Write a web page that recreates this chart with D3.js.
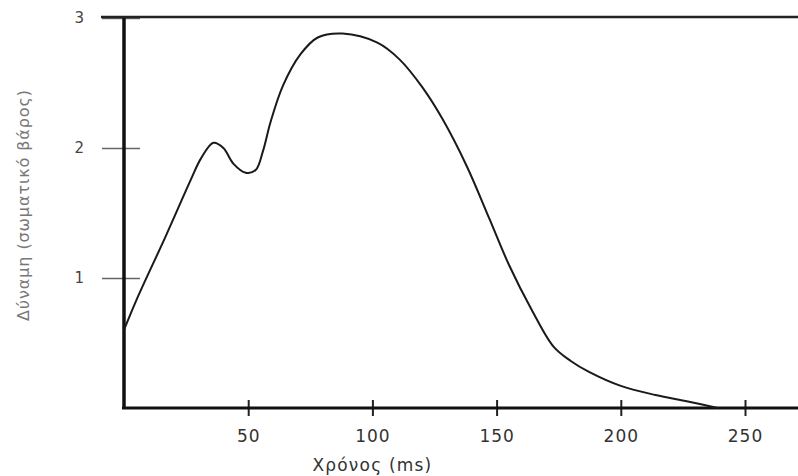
<!DOCTYPE html>
<html>
<head>
<meta charset="utf-8">
<script src="https://cdn.jsdelivr.net/npm/d3@7"></script>
<style>
  body { margin: 0; background: #fff; }
  text { font-family: "DejaVu Sans", sans-serif; }
</style>
</head>
<body>
<svg id="chart" width="798" height="476"></svg>
<script>
// values
var timeMs = [0, 5, 17, 27, 31, 36, 40, 44, 49, 53, 56, 59, 64, 71, 78, 88, 102, 111, 120, 128, 138, 147, 155, 164, 173, 180, 187, 200, 214, 227, 239];
var force  = [0.6, 0.83, 1.33, 1.76, 1.92, 2.04, 2.0, 1.88, 1.81, 1.83, 1.98, 2.2, 2.48, 2.72, 2.85, 2.88, 2.81, 2.68, 2.47, 2.23, 1.86, 1.46, 1.1, 0.76, 0.47, 0.36, 0.28, 0.17, 0.1, 0.05, 0.0];
var xTicks = [50, 100, 150, 200, 250];
var yTicks = [1, 2, 3];
var xLabel = "Χρόνος (ms)";
var yLabel = "Δύναμη (σωματικό βάρος)";

var width = 798, height = 476;

var x = d3.scaleLinear().domain([0, 250]).range([124, 745]);
var y = d3.scaleLinear().domain([0, 3]).range([408, 18]);

var svg = d3.select("#chart");

// y axis ticks (cross the axis line)
var yAxis = svg.append("g")
    .attr("transform", "translate(" + x(0) + ",0)")
    .call(d3.axisLeft(y).tickValues(yTicks).tickSize(22).tickFormat(d3.format("d")));
yAxis.select(".domain").remove();
yAxis.selectAll(".tick line")
    .attr("x2", 16).attr("x1", -22)
    .attr("stroke", "#666").attr("stroke-width", 1.5);
yAxis.selectAll(".tick text")
    .attr("x", -40)
    .attr("font-size", 15)
    .attr("fill", "#444");

// x axis
var xAxis = svg.append("g")
    .attr("transform", "translate(0," + y(0) + ")")
    .call(d3.axisBottom(x).tickValues(xTicks).tickSize(8));
xAxis.select(".domain").remove();
xAxis.selectAll(".tick line")
    .attr("y1", -8).attr("y2", 8)
    .attr("stroke", "#222").attr("stroke-width", 2);
xAxis.selectAll(".tick text")
    .attr("y", 22)
    .attr("font-size", 17)
    .attr("letter-spacing", 1)
    .attr("fill", "#333");

// frame: left, bottom, top
svg.append("line")
    .attr("x1", x(0)).attr("x2", x(0))
    .attr("y1", y(3) - 2).attr("y2", y(0) + 1)
    .attr("stroke", "#111").attr("stroke-width", 3.5);
svg.append("line")
    .attr("x1", x(0) - 2).attr("x2", width)
    .attr("y1", y(0)).attr("y2", y(0))
    .attr("stroke", "#111").attr("stroke-width", 3);
svg.append("line")
    .attr("x1", x(0) - 23).attr("x2", width)
    .attr("y1", y(3) - 1).attr("y2", y(3) - 1)
    .attr("stroke", "#222").attr("stroke-width", 2.5);

// curve
var data = timeMs.map(function(t, i) { return {t: t, f: force[i]}; });
var line = d3.line()
    .x(function(d) { return x(d.t); })
    .y(function(d) { return y(d.f); })
    .curve(d3.curveCatmullRom.alpha(0.5));

svg.append("path")
    .datum(data)
    .attr("d", line)
    .attr("fill", "none")
    .attr("stroke", "#1a1a1a")
    .attr("stroke-width", 2);

// labels
svg.append("text")
    .attr("x", x(100))
    .attr("y", 471)
    .attr("text-anchor", "middle")
    .attr("font-size", 17)
    .attr("letter-spacing", 1.2)
    .attr("fill", "#333")
    .text(xLabel);

svg.append("text")
    .attr("transform", "translate(29,205) rotate(-90)")
    .attr("text-anchor", "middle")
    .attr("font-size", 16)
    .attr("letter-spacing", 0.9)
    .attr("fill", "#777")
    .text(yLabel);
</script>
</body>
</html>
